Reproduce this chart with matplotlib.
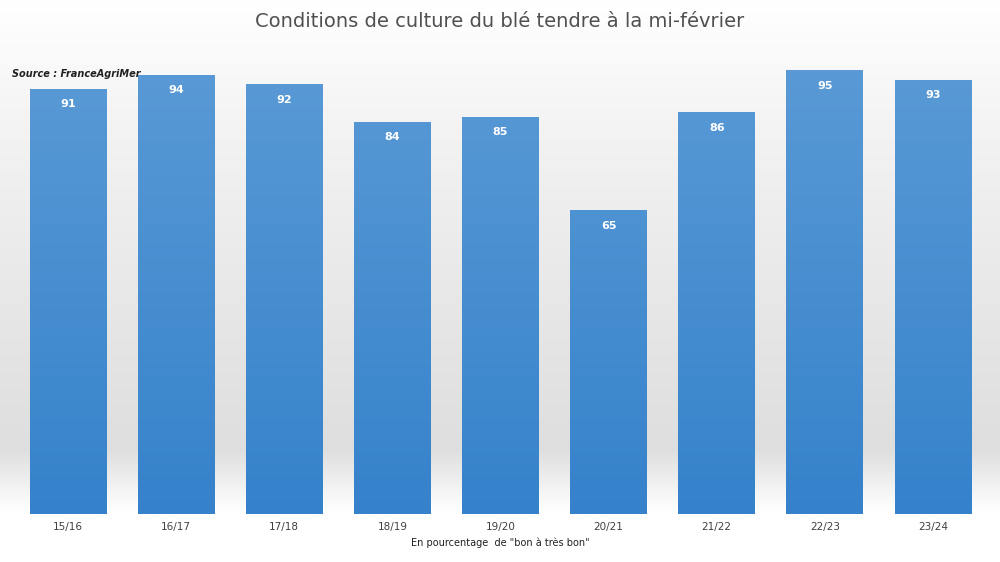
import matplotlib.pyplot as plt
import numpy as np
from matplotlib.colors import LinearSegmentedColormap

campaigns = ["15/16", "16/17", "17/18", "18/19", "19/20", "20/21", "21/22", "22/23", "23/24"]
bon_a_tres_bon = [91, 94, 92, 84, 85, 65, 86, 95, 93]

fig = plt.figure(figsize=(10, 5.62), dpi=100)

# background: white at the top, light grey lower down, white again under the axis
bg = fig.add_axes([0, 0, 1, 1], zorder=0)
bg_cmap = LinearSegmentedColormap.from_list(
    "bg", [(0, "#ffffff"), (0.09, "#ffffff"), (0.2, "#dedede"), (0.75, "#f2f2f2"), (1, "#ffffff")])
grad = np.linspace(0, 1, 256).reshape(-1, 1)
bg.imshow(grad, aspect="auto", cmap=bg_cmap, extent=[0, 1, 0, 1], origin="lower")
bg.set_axis_off()

ax = fig.add_axes([0.028, 0.0854, 0.945, 0.831], zorder=1)
ax.patch.set_alpha(0)
x = np.arange(len(campaigns))
bars = ax.bar(x, bon_a_tres_bon, width=0.71, color="none", edgecolor="none")

bar_cmap = LinearSegmentedColormap.from_list("bar", ["#3582cb", "#5b9bd6"])
bar_grad = np.linspace(0, 1, 256).reshape(-1, 1)
for b, v in zip(bars, bon_a_tres_bon):
    x0 = b.get_x()
    im = ax.imshow(bar_grad, aspect="auto", cmap=bar_cmap, origin="lower",
                   extent=[x0, x0 + b.get_width(), 0, 100], zorder=2)
    im.set_clip_path(b)
    ax.text(b.get_x() + b.get_width() / 2, v - 2.2, str(v), ha="center", va="top",
            color="white", fontsize=8, fontweight="bold", zorder=3)

ax.set_xlim(-0.37, len(campaigns) - 0.63)
ax.set_ylim(0, 100)
ax.set_xticks(x)
ax.set_xticklabels(campaigns, fontsize=7.5, color="#404040")
ax.tick_params(axis="x", length=0, pad=6)
ax.set_yticks([])
for s in ax.spines.values():
    s.set_visible(False)
ax.set_xlabel('En pourcentage  de "bon à très bon"', fontsize=7, color="#202020", labelpad=4)

fig.text(0.5, 0.962, "Conditions de culture du blé tendre à la mi-février",
         ha="center", va="center", fontsize=14, color="#505050")
fig.text(0.012, 0.868, "Source : FranceAgriMer", fontsize=7, fontstyle="italic",
         fontweight="bold", color="#202020", va="center")

fig.savefig("out.png", dpi=100)
